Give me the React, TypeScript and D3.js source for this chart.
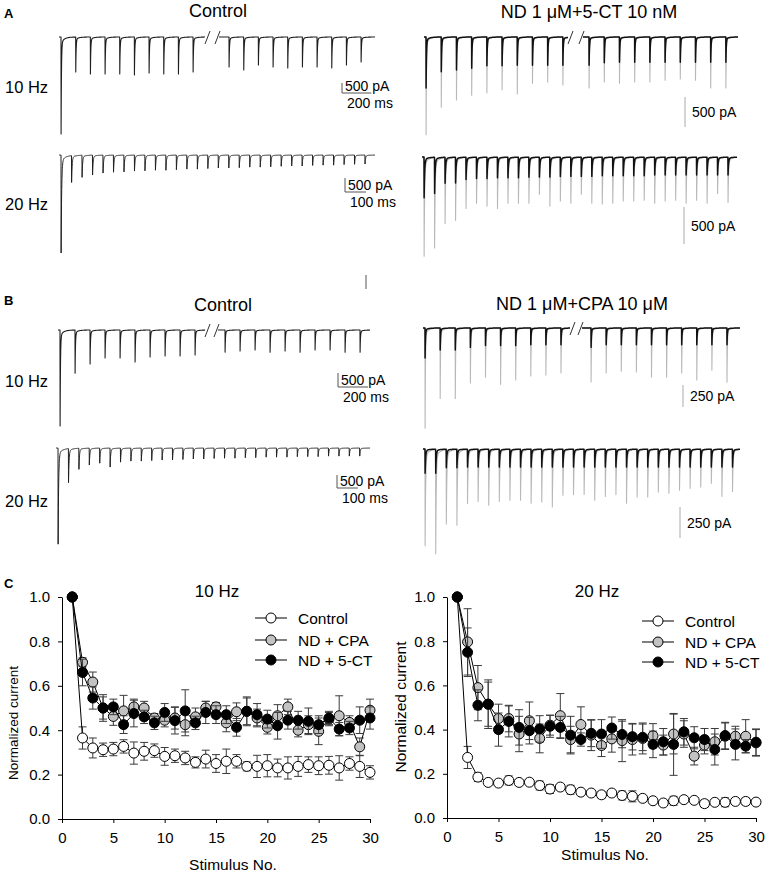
import React, { useEffect, useRef } from "react";
import * as d3 from "d3";

const FONT = "'Liberation Sans', Arial, Helvetica, sans-serif";

// ---- example traces: peak amplitude of each response (pA) ----
// 10 Hz traces show stimuli 1-10 and 21-30 (broken axis), 20 Hz traces all 30
const a10Control = [4850, 1750, 1850, 1850, 1850, 1900, 1800, 1850, 1850, 1750, 1500, 1650, 1400, 1500, 1550, 1500, 1500, 1550, 1400, 1250];
const a10DrugGray = [1630, 1170, 1050, 970, 930, 880, 950, 770, 750, 800, 850, 750, 770, 750, 750, 720, 700, 720, 850, 850];
const a10DrugBlack = [850, 580, 550, 520, 480, 480, 470, 470, 470, 470, 470, 430, 420, 420, 420, 420, 420, 420, 420, 420];
const a20Control = [3500, 960, 790, 710, 640, 610, 600, 570, 560, 540, 540, 520, 500, 500, 480, 460, 460, 450, 430, 430, 420, 400, 390, 390, 370, 360, 360, 340, 330, 320];
const a20DrugGray = [1340, 1220, 890, 850, 690, 620, 660, 690, 620, 620, 620, 500, 660, 590, 620, 500, 620, 630, 620, 590, 590, 580, 620, 590, 580, 620, 580, 620, 490, 610];
const a20DrugBlack = [550, 490, 350, 350, 300, 290, 290, 280, 280, 280, 270, 270, 270, 260, 260, 260, 260, 250, 250, 250, 250, 250, 240, 240, 240, 240, 240, 240, 240, 240];
const b10Control = [3430, 1540, 1210, 1000, 1000, 1140, 960, 930, 930, 890, 790, 750, 710, 790, 750, 790, 710, 710, 790, 790];
const b10DrugGray = [1140, 800, 800, 625, 560, 640, 590, 545, 535, 510, 615, 510, 490, 500, 560, 560, 510, 590, 480, 615];
const b10DrugBlack = [340, 250, 250, 220, 200, 200, 200, 190, 190, 190, 220, 190, 190, 190, 190, 190, 190, 190, 190, 190];
const b20Control = [3700, 1310, 810, 650, 580, 730, 540, 500, 500, 480, 460, 460, 440, 420, 420, 400, 390, 390, 370, 370, 350, 350, 350, 330, 330, 330, 310, 310, 310, 310];
const b20DrugGray = [780, 840, 600, 610, 435, 420, 450, 420, 410, 410, 435, 425, 465, 370, 365, 365, 410, 380, 365, 435, 385, 385, 345, 355, 330, 315, 305, 275, 380, 340];
const b20DrugBlack = [195, 195, 150, 150, 145, 145, 145, 145, 145, 145, 145, 145, 145, 145, 145, 145, 145, 145, 145, 145, 145, 145, 145, 145, 145, 145, 145, 145, 145, 145];

// ---- panel C: normalized current vs stimulus number ----
const stimulus = [1, 2, 3, 4, 5, 6, 7, 8, 9, 10, 11, 12, 13, 14, 15, 16, 17, 18, 19, 20, 21, 22, 23, 24, 25, 26, 27, 28, 29, 30];
const xTicks = [0, 5, 10, 15, 20, 25, 30];
const yTicks = [0, 0.2, 0.4, 0.6, 0.8, 1.0];

const ctrl10 = [1, 0.365, 0.32, 0.312, 0.315, 0.327, 0.297, 0.305, 0.308, 0.282, 0.285, 0.275, 0.255, 0.27, 0.25, 0.26, 0.26, 0.237, 0.237, 0.24, 0.23, 0.23, 0.237, 0.245, 0.24, 0.242, 0.23, 0.25, 0.237, 0.21];
const ctrl10Err = [0, 0.05, 0.045, 0.03, 0.03, 0.03, 0.05, 0.04, 0.03, 0.04, 0.03, 0.03, 0.025, 0.04, 0.04, 0.055, 0.03, 0.02, 0.05, 0.05, 0.04, 0.05, 0.045, 0.035, 0.04, 0.04, 0.055, 0.03, 0.05, 0.03];
const cpa10 = [1, 0.706, 0.617, 0.5, 0.462, 0.487, 0.505, 0.5, 0.455, 0.445, 0.455, 0.425, 0.46, 0.5, 0.505, 0.433, 0.483, 0.485, 0.455, 0.413, 0.465, 0.505, 0.4, 0.425, 0.395, 0.45, 0.465, 0.435, 0.325, 0.49];
const cpa10Err = [0, 0.02, 0.045, 0.05, 0.04, 0.07, 0.035, 0.03, 0.02, 0.03, 0.05, 0.05, 0.04, 0.03, 0.02, 0.04, 0.04, 0.065, 0.04, 0.03, 0.05, 0.035, 0.03, 0.04, 0.06, 0.03, 0.09, 0.03, 0.04, 0.05];
const ct10 = [1, 0.66, 0.545, 0.5, 0.505, 0.425, 0.475, 0.46, 0.433, 0.48, 0.443, 0.487, 0.433, 0.48, 0.47, 0.47, 0.413, 0.485, 0.47, 0.45, 0.42, 0.445, 0.445, 0.44, 0.425, 0.455, 0.405, 0.41, 0.445, 0.455];
const ct10Err = [0, 0.06, 0.05, 0.06, 0.035, 0.04, 0.06, 0.03, 0.03, 0.04, 0.06, 0.095, 0.03, 0.05, 0.04, 0.04, 0.04, 0.06, 0.05, 0.04, 0.06, 0.04, 0.04, 0.06, 0.04, 0.03, 0.03, 0.03, 0.06, 0.05];

const ctrl20 = [1, 0.274, 0.185, 0.161, 0.158, 0.17, 0.161, 0.162, 0.147, 0.131, 0.14, 0.128, 0.117, 0.113, 0.105, 0.113, 0.102, 0.098, 0.089, 0.078, 0.068, 0.078, 0.083, 0.08, 0.065, 0.071, 0.071, 0.075, 0.075, 0.072];
const ctrl20Err = [0, 0.05, 0.02, 0.01, 0.01, 0.02, 0.01, 0.01, 0.02, 0.02, 0.01, 0.02, 0.01, 0.01, 0.015, 0.01, 0.02, 0.025, 0.01, 0.01, 0.01, 0.02, 0.01, 0.01, 0.015, 0.01, 0.02, 0.01, 0.015, 0.01];
const cpa20 = [1, 0.797, 0.59, 0.515, 0.45, 0.45, 0.38, 0.44, 0.36, 0.42, 0.463, 0.355, 0.423, 0.375, 0.328, 0.358, 0.35, 0.355, 0.36, 0.372, 0.33, 0.38, 0.38, 0.28, 0.33, 0.345, 0.37, 0.37, 0.37, 0.34];
const cpa20Err = [0, 0.15, 0.1, 0.1, 0.065, 0.06, 0.08, 0.085, 0.065, 0.045, 0.1, 0.06, 0.08, 0.07, 0.05, 0.06, 0.095, 0.07, 0.07, 0.055, 0.045, 0.09, 0.06, 0.04, 0.04, 0.06, 0.06, 0.045, 0.075, 0.06];
const ct20 = [1, 0.75, 0.51, 0.515, 0.4, 0.437, 0.41, 0.395, 0.403, 0.415, 0.41, 0.375, 0.355, 0.383, 0.38, 0.407, 0.378, 0.368, 0.365, 0.333, 0.345, 0.333, 0.39, 0.363, 0.355, 0.31, 0.373, 0.333, 0.325, 0.343];
const ct20Err = [0, 0.11, 0.07, 0.11, 0.075, 0.07, 0.08, 0.06, 0.06, 0.05, 0.05, 0.085, 0.03, 0.06, 0.065, 0.05, 0.06, 0.06, 0.06, 0.06, 0.06, 0.14, 0.06, 0.05, 0.05, 0.07, 0.06, 0.07, 0.03, 0.06];

// synaptic current kernel
const RISE = 0.6;
const TAU_FAST = 2.5;
const TAU_SLOW = 22;
const kernel = (s) => {
  if (s <= 0) return 0;
  if (s < RISE) return s / RISE;
  return 0.94 * Math.exp(-(s - RISE) / TAU_FAST) + 0.06 * Math.exp(-(s - RISE) / TAU_SLOW);
};

function TracePanel({ cfg }) {
  const x = d3.scaleLinear().domain([0, cfg.interval]).range([cfg.firstX, cfg.firstX + cfg.spacing]);
  const y = d3.scaleLinear().domain([0, -cfg.barPA]).range([cfg.baseline, cfg.baseline + cfg.barPx]);
  const line = d3.line().x((d) => x(d[0])).y((d) => y(d[1]));

  const build = (amps) => {
    let idx = 0;
    return cfg.segments.map((seg) => {
      const t0 = x.invert(seg.first);
      const times = d3.range(seg.count).map((k) => t0 + k * cfg.interval);
      const a = amps.slice(idx, idx + seg.count);
      idx += seg.count;
      const tStart = x.invert(seg.from);
      const tEnd = x.invert(seg.to);
      const ts = d3.range(tStart, tEnd, 0.5);
      times.forEach((t) => ts.push(t, t + RISE));
      ts.push(tEnd);
      ts.sort((p, q) => p - q);
      const pts = ts.map((t) => [t, -d3.sum(times, (tk, k) => a[k] * kernel(t - tk))]);
      return line(pts);
    });
  };

  const barH = y(-cfg.barPA) - y(0);
  const barW = x(cfg.barMs) - x(0);
  const b = cfg.bar;

  return (
    <g>
      {cfg.traces.map((tr, i) =>
        build(tr.amps).map((d, j) => (
          <path key={`${i}-${j}`} d={d} fill="none" stroke={tr.color} strokeWidth={tr.width} strokeLinejoin="round" />
        ))
      )}
      {cfg.segments.slice(1).map((seg, i) => {
        const prev = cfg.segments[i];
        const yb = cfg.baseline;
        return (
          <g key={i} stroke="#333" strokeWidth={1}>
            <line x1={prev.to} y1={yb + 7} x2={prev.to + 5} y2={yb - 6} />
            <line x1={seg.from - 4} y1={yb + 7} x2={seg.from + 1} y2={yb - 6} />
          </g>
        );
      })}
      {b.kind === "L" ? (
        <g>
          <path d={`M${b.x},${b.y - barH}V${b.y}H${b.x + barW}`} fill="none" stroke="#555" strokeWidth={1} />
          <text x={b.x + 3} y={b.y - 2} fontSize={14}>{`${cfg.barPA} pA`}</text>
          <text x={b.x + 5} y={b.y + 15} fontSize={14}>{`${cfg.barMs} ms`}</text>
        </g>
      ) : (
        <g>
          <line x1={b.x} y1={b.y} x2={b.x} y2={b.y + barH} stroke="#aaa" strokeWidth={1} />
          <text x={b.x + 7} y={b.y + barH / 2 + 5} fontSize={14}>{`${cfg.barPA} pA`}</text>
        </g>
      )}
    </g>
  );
}

const CTRL = "#1e1e1e";
const GRAY = "#b8b8b8";
const BLK = "#111";

const panels = [
  {
    baseline: 37, firstX: 61, spacing: 14.67, interval: 100, barPA: 500, barPx: 10, barMs: 200,
    segments: [{ from: 59, to: 205, first: 61, count: 10 }, { from: 219, to: 375, first: 229, count: 10 }],
    traces: [{ amps: a10Control, color: CTRL, width: 1.1 }],
    bar: { kind: "L", x: 342, y: 93 },
  },
  {
    baseline: 37, firstX: 426, spacing: 15.2, interval: 100, barPA: 500, barPx: 30, barMs: 200,
    segments: [{ from: 424, to: 568, first: 426, count: 10 }, { from: 583, to: 738, first: 589, count: 10 }],
    traces: [{ amps: a10DrugGray, color: GRAY, width: 1.1 }, { amps: a10DrugBlack, color: BLK, width: 1.5 }],
    bar: { kind: "V", x: 685, y: 97 },
  },
  {
    baseline: 155, firstX: 61, spacing: 10.48, interval: 50, barPA: 500, barPx: 14, barMs: 100,
    segments: [{ from: 59, to: 375, first: 61, count: 30 }],
    traces: [{ amps: a20Control, color: CTRL, width: 1 }],
    bar: { kind: "L", x: 345, y: 192 },
  },
  {
    baseline: 157, firstX: 424, spacing: 10.48, interval: 50, barPA: 500, barPx: 37, barMs: 100,
    segments: [{ from: 422, to: 737, first: 424, count: 30 }],
    traces: [{ amps: a20DrugGray, color: GRAY, width: 1.1 }, { amps: a20DrugBlack, color: BLK, width: 1.5 }],
    bar: { kind: "V", x: 684, y: 207 },
  },
  {
    baseline: 330, firstX: 60, spacing: 15.0, interval: 100, barPA: 500, barPx: 14, barMs: 200,
    segments: [{ from: 58, to: 205, first: 60, count: 10 }, { from: 218, to: 370, first: 225, count: 10 }],
    traces: [{ amps: b10Control, color: CTRL, width: 1.1 }],
    bar: { kind: "L", x: 338, y: 387 },
  },
  {
    baseline: 328, firstX: 425, spacing: 15.1, interval: 100, barPA: 250, barPx: 22, barMs: 200,
    segments: [{ from: 423, to: 570, first: 425, count: 10 }, { from: 582, to: 740, first: 591, count: 10 }],
    traces: [{ amps: b10DrugGray, color: GRAY, width: 1.1 }, { amps: b10DrugBlack, color: BLK, width: 1.5 }],
    bar: { kind: "V", x: 683, y: 385 },
  },
  {
    baseline: 448, firstX: 58, spacing: 10.4, interval: 50, barPA: 500, barPx: 13, barMs: 100,
    segments: [{ from: 56, to: 370, first: 58, count: 30 }],
    traces: [{ amps: b20Control, color: CTRL, width: 1 }],
    bar: { kind: "L", x: 337, y: 488 },
  },
  {
    baseline: 449, firstX: 425, spacing: 10.6, interval: 50, barPA: 250, barPx: 31, barMs: 100,
    segments: [{ from: 423, to: 740, first: 425, count: 30 }],
    traces: [{ amps: b20DrugGray, color: GRAY, width: 1.1 }, { amps: b20DrugBlack, color: BLK, width: 1.5 }],
    bar: { kind: "V", x: 680, y: 507 },
  },
];

function Summary({ c }) {
  const xRef = useRef(null);
  const yRef = useRef(null);
  const x = d3.scaleLinear().domain([0, 30]).range(c.xRange);
  const y = d3.scaleLinear().domain([0, 1]).range(c.yRange);

  useEffect(() => {
    const gx = d3.select(xRef.current);
    gx.call(d3.axisBottom(x).tickValues(xTicks).tickSize(4).tickSizeOuter(0).tickPadding(9).tickFormat(d3.format("d")));
    const gy = d3.select(yRef.current);
    gy.call(d3.axisLeft(y).tickValues(yTicks).tickSize(4).tickSizeOuter(0).tickPadding(8).tickFormat(d3.format(".1f")));
    [gx, gy].forEach((g) => {
      g.attr("font-family", FONT).attr("font-size", 15);
      g.selectAll("path, line").attr("stroke", "#000");
      g.selectAll("text").attr("fill", "#000");
    });
  }, []);

  const series = [
    { name: "Control", v: c.ctrl, e: c.ctrlErr, fill: "#ffffff" },
    { name: "ND + CPA", v: c.cpa, e: c.cpaErr, fill: "#c2c2c2" },
    { name: "ND + 5-CT", v: c.ct, e: c.ctErr, fill: "#000000" },
  ];
  const line = d3.line().x((d) => x(d[0])).y((d) => y(d[1]));

  return (
    <g>
      <text x={c.titleX} y={c.titleY} fontSize={17} textAnchor="middle">{c.title}</text>
      <g ref={xRef} transform={`translate(0,${c.yRange[0]})`} />
      <g ref={yRef} transform={`translate(${c.xRange[0]},0)`} />
      <text transform={`translate(${c.ylabX},${c.ylabY}) rotate(-90)`} fontSize={c.ylabSize} textAnchor="middle" dy="0.35em">Normalized current</text>
      <text x={c.xlabX} y={c.xlabY} fontSize={15.5} textAnchor="middle">Stimulus No.</text>
      {series.map((s) => (
        <g key={s.name}>
          {stimulus.map((n, i) =>
            s.e[i] > 0 ? (
              <g key={n} stroke="#3a3a3a" strokeWidth={1}>
                <line x1={x(n)} x2={x(n)} y1={y(s.v[i] - s.e[i])} y2={y(s.v[i] + s.e[i])} />
                <line x1={x(n) - 4} x2={x(n) + 4} y1={y(s.v[i] + s.e[i])} y2={y(s.v[i] + s.e[i])} />
                <line x1={x(n) - 4} x2={x(n) + 4} y1={y(s.v[i] - s.e[i])} y2={y(s.v[i] - s.e[i])} />
              </g>
            ) : null
          )}
          <path d={line(stimulus.map((n, i) => [n, s.v[i]]))} fill="none" stroke="#000" strokeWidth={1} />
          {stimulus.map((n, i) => (
            <circle key={n} cx={x(n)} cy={y(s.v[i])} r={5} fill={s.fill} stroke="#000" strokeWidth={1} />
          ))}
        </g>
      ))}
      {series.map((s, i) => (
        <g key={s.name}>
          <line x1={c.legX - 16} x2={c.legX + 16} y1={c.legY[i]} y2={c.legY[i]} stroke="#000" strokeWidth={1} />
          <circle cx={c.legX} cy={c.legY[i]} r={5} fill={s.fill} stroke="#000" strokeWidth={1} />
          <text x={c.legX + 27} y={c.legY[i] + 5.5} fontSize={15.5}>{s.name}</text>
        </g>
      ))}
    </g>
  );
}

const summaries = [
  {
    xRange: [62, 370], yRange: [819, 597], title: "10 Hz", titleX: 217, titleY: 597,
    ctrl: ctrl10, ctrlErr: ctrl10Err, cpa: cpa10, cpaErr: cpa10Err, ct: ct10, ctErr: ct10Err,
    legX: 271, legY: [618, 640, 660], ylabX: 13, ylabY: 723, ylabSize: 13.5, xlabX: 233, xlabY: 870,
  },
  {
    xRange: [447, 756], yRange: [818, 597], title: "20 Hz", titleX: 597, titleY: 597,
    ctrl: ctrl20, ctrlErr: ctrl20Err, cpa: cpa20, cpaErr: cpa20Err, ct: ct20, ctErr: ct20Err,
    legX: 658, legY: [621, 642, 662], ylabX: 401, ylabY: 707, ylabSize: 15.5, xlabX: 605, xlabY: 860,
  },
];

export default function App() {
  return (
    <svg
      width={767}
      height={874}
      viewBox="0 0 767 874"
      style={{ position: "absolute", left: 0, top: 0, background: "#fff" }}
      fontFamily={FONT}
    >
      <rect width={767} height={874} fill="#fff" />
      <g fontWeight="bold" fontSize={13}>
        <text x={4} y={18}>A</text>
        <text x={4} y={305}>B</text>
        <text x={4} y={588}>C</text>
      </g>
      <g fontSize={18} textAnchor="middle">
        <text x={218} y={17}>Control</text>
        <text x={589} y={18}>ND 1 μM+5-CT 10 nM</text>
        <text x={223} y={311}>Control</text>
        <text x={582} y={310}>ND 1 μM+CPA 10 μM</text>
      </g>
      <g fontSize={16.5}>
        <text x={5} y={93}>10 Hz</text>
        <text x={5} y={210}>20 Hz</text>
        <text x={5} y={387}>10 Hz</text>
        <text x={5} y={507}>20 Hz</text>
      </g>
      {panels.map((p, i) => (
        <TracePanel key={i} cfg={p} />
      ))}
      <line x1={366} x2={366} y1={275} y2={289} stroke="#555" strokeWidth={1} />
      {summaries.map((s, i) => (
        <Summary key={i} c={s} />
      ))}
    </svg>
  );
}
